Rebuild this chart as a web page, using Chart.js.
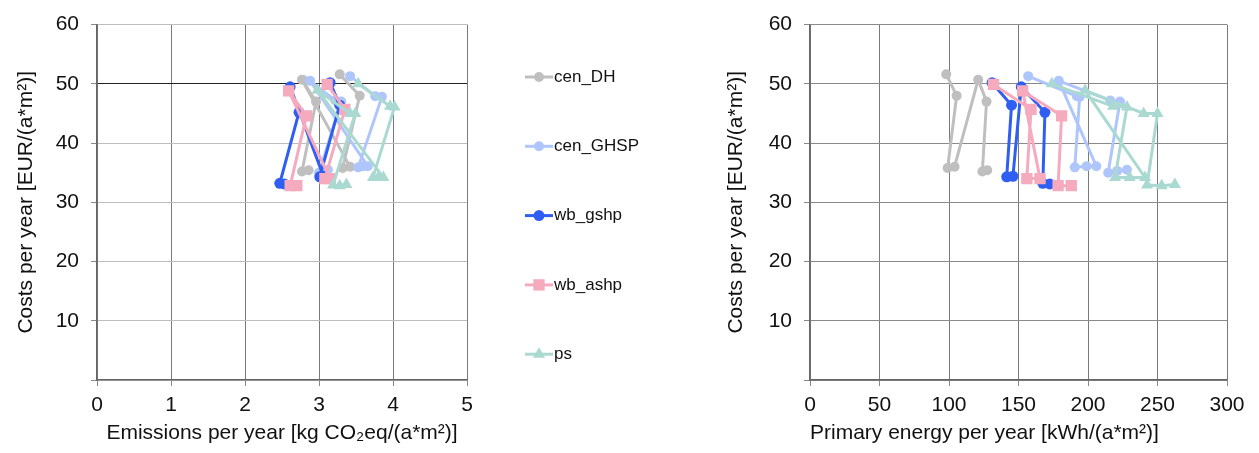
<!DOCTYPE html>
<html>
<head>
<meta charset="utf-8">
<script src="https://cdn.jsdelivr.net/npm/chart.js@4.4.1/dist/chart.umd.min.js"></script>
<style>
  html, body { margin: 0; padding: 0; background: #fff; }
  #wrap { position: relative; width: 1259px; height: 453px; overflow: hidden; }
  #left { position: absolute; left: 0; top: 0; }
  #right { position: absolute; left: 700px; top: 0; }
</style>
</head>
<body>
<div id="wrap">
  <canvas id="left" width="700" height="453"></canvas>
  <canvas id="right" width="559" height="453"></canvas>
</div>
<script>
// series names, same order as the legend
const seriesNames = ['cen_DH', 'cen_GHSP', 'wb_gshp', 'wb_ashp', 'ps'];

// costs per year [EUR/(a*m2)] -- shared by both plots
const costDH   = [51.6, 48.0, 35.8, 36.0, 50.7, 47.0, 35.2, 35.4];
const costGHSP = [51.3, 47.9, 47.8, 35.9, 36.1, 36.1, 50.5, 47.2, 47.0, 35.0, 35.3, 35.5];
const costGshp = [50.2, 46.4, 34.3, 34.4, 49.5, 45.2, 33.2, 33.1];
const costAshp = [49.9, 45.7, 34.0, 34.0, 48.8, 44.6, 32.8, 32.8];
const costPs   = [50.0, 46.2, 46.1, 34.2, 34.2, 34.2, 48.9, 45.0, 45.0, 32.9, 32.8, 33.0];

// emissions per year [kg CO2eq/(a*m2)]
const emisDH   = [3.28, 3.55, 3.32, 3.42, 2.77, 2.96, 2.77, 2.86];
const emisGHSP = [3.42, 3.76, 3.85, 3.53, 3.60, 3.66, 2.88, 3.22, 3.30, 3.00, 3.06, 3.12];
const emisGshp = [3.15, 3.28, 3.01, 3.06, 2.61, 2.73, 2.47, 2.53];
const emisAshp = [3.11, 3.35, 3.08, 3.15, 2.59, 2.83, 2.61, 2.70];
const emisPs   = [3.53, 3.96, 4.02, 3.73, 3.80, 3.87, 2.98, 3.42, 3.49, 3.19, 3.28, 3.37];

// primary energy per year [kWh/(a*m2)]
const peDH   = [98, 105.5, 99, 104, 121, 127, 124, 127.5];
const peGHSP = [157, 192, 194, 190.5, 199, 206, 179, 216, 223, 214.5, 221, 228];
const peGshp = [131, 145, 141.5, 146, 152, 169, 167.5, 172.5];
const peAshp = [132, 159, 156, 165.5, 153, 181, 178.5, 188];
const pePs   = [174, 218, 228, 219.5, 230, 241, 198, 240, 250, 242.5, 253, 262.5];

const emisTicks = [0, 1, 2, 3, 4, 5];
const peTicks = [0, 50, 100, 150, 200, 250, 300];
const costTicks = [10, 20, 30, 40, 50, 60];

const costs = [costDH, costGHSP, costGshp, costAshp, costPs];
const emissions = [emisDH, emisGHSP, emisGshp, emisAshp, emisPs];
const primary = [peDH, peGHSP, peGshp, peAshp, pePs];

const colors = ['#bfbfbf', '#afc6fd', '#2f5ff2', '#f5aabd', '#aad9d2'];
const markers = ['circle', 'circle', 'circle', 'rect', 'triangle'];
const radii = [5, 5, 5.5, 8, 7];

const FONT = '"Liberation Sans", Arial, Helvetica, sans-serif';

function makeDatasets(xs) {
  return seriesNames.map((name, i) => ({
    label: name,
    data: costs[i].map((c, j) => ({ x: xs[i][j], y: c })),
    showLine: true,
    borderColor: colors[i],
    backgroundColor: colors[i],
    borderWidth: 3,
    pointStyle: markers[i],
    pointRadius: radii[i],
    pointBorderWidth: 0,
    pointBackgroundColor: colors[i],
    order: seriesNames.length - i
  }));
}

const sideLegend = {
  id: 'sideLegend',
  afterDraw(chart) {
    const ctx = chart.ctx;
    ctx.save();
    ctx.font = '17px ' + FONT;
    ctx.textBaseline = 'middle';
    chart.data.datasets.forEach((ds, i) => {
      const y = 77 + i * 69.3;
      ctx.strokeStyle = ds.borderColor;
      ctx.lineWidth = 3;
      ctx.beginPath();
      ctx.moveTo(525, y);
      ctx.lineTo(553, y);
      ctx.stroke();
      ctx.fillStyle = ds.backgroundColor;
      Chart.helpers.drawPoint(ctx, { pointStyle: ds.pointStyle, radius: ds.pointRadius, borderWidth: 0, rotation: 0 }, 539, y);
      ctx.fillStyle = '#111';
      ctx.fillText(ds.label, 554, y);
    });
    ctx.restore();
  }
};

function makeOptions(xMax, xStep, xTitle, yAxisWidth, yTitlePad, padRight, titleAlign, hGrid) {
  return {
    responsive: false,
    animation: false,
    layout: { padding: { top: 19, right: padRight, bottom: 0, left: 0 } },
    plugins: { legend: { display: false }, tooltip: { enabled: false } },
    scales: {
      x: {
        type: 'linear',
        min: 0, max: xMax,
        afterFit: (s) => { s.height = 73; },
        ticks: { stepSize: xStep, color: '#111', font: { family: FONT, size: 21 }, padding: 7, maxRotation: 0 },
        grid: { color: '#7a7a7a', lineWidth: 1, tickLength: 6, tickColor: '#888' },
        border: { color: '#666', width: 1.5 },
        title: { display: true, text: xTitle, color: '#111', align: titleAlign,
                 font: { family: FONT, size: 21 }, padding: { top: 0, bottom: 7 } }
      },
      y: {
        type: 'linear',
        min: 0, max: 60,
        afterFit: (s) => { s.width = yAxisWidth; },
        ticks: { stepSize: 10, color: '#111', font: { family: FONT, size: 21 }, padding: 12,
                 callback: (v) => costTicks.includes(v) ? v : '' },
        grid: { color: hGrid, lineWidth: 1, tickLength: 6, tickColor: '#888' },
        border: { color: '#666', width: 1.5 },
        title: { display: true, text: 'Costs per year [EUR/(a*m²)]', color: '#111',
                 font: { family: FONT, size: 21 }, padding: { top: yTitlePad, bottom: 0 } }
      }
    }
  };
}

new Chart(document.getElementById('left'), {
  type: 'scatter',
  data: { datasets: makeDatasets(emissions) },
  options: makeOptions(emisTicks[emisTicks.length - 1], 1, 'Emissions per year [kg CO₂eq/(a*m²)]', 97, 14, 233, 'center',
    (c) => c.tick && c.tick.value === 50 ? '#222' : '#bdbdbd'),
  plugins: [sideLegend]
});

new Chart(document.getElementById('right'), {
  type: 'scatter',
  data: { datasets: makeDatasets(primary) },
  options: makeOptions(peTicks[peTicks.length - 1], 50, 'Primary energy per year [kWh/(a*m²)]', 110, 24, 32, 'start', '#8a8a8a')
});
</script>
</body>
</html>
